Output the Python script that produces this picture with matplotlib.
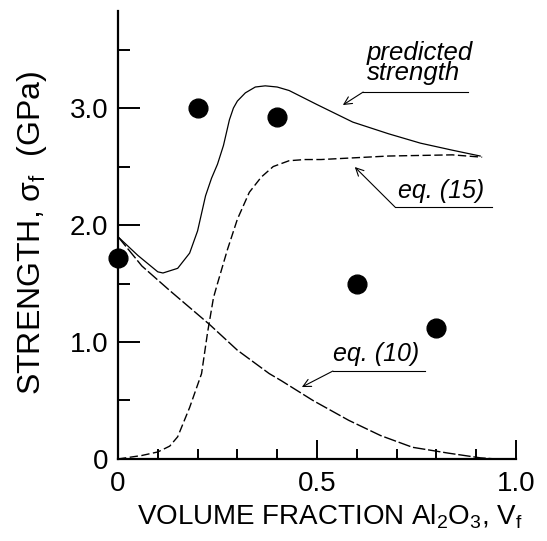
import matplotlib
matplotlib.use('Agg')
import matplotlib.pyplot as plt
from matplotlib.ticker import MultipleLocator, FixedLocator

plt.rcParams['font.family'] = ['Liberation Sans', 'DejaVu Sans']
plt.rcParams['mathtext.default'] = 'regular'

# measured strengths (GPa) vs volume fraction
data_vf = [0.0, 0.2, 0.4, 0.6, 0.8]
data_strength = [1.72, 3.0, 2.92, 1.50, 1.12]

# predicted strength curve (solid)
pred_vf = [0.0, 0.05, 0.10, 0.113, 0.15, 0.18, 0.20, 0.22, 0.235, 0.25, 0.265, 0.28,
           0.29, 0.30, 0.32, 0.345, 0.37, 0.40, 0.43, 0.50, 0.59, 0.68, 0.76, 0.84, 0.91]
pred_strength = [1.90, 1.74, 1.60, 1.59, 1.63, 1.76, 1.95, 2.25, 2.40, 2.52, 2.68, 2.90,
                 3.00, 3.06, 3.13, 3.18, 3.19, 3.18, 3.15, 3.03, 2.88, 2.78, 2.70, 2.64, 2.59]

# eq. (15)
eq15_vf = [0.0, 0.06, 0.10, 0.13, 0.15, 0.18, 0.21, 0.225, 0.24, 0.25, 0.275, 0.30,
           0.33, 0.36, 0.39, 0.43, 0.47, 0.51, 0.68, 0.84, 0.915]
eq15_strength = [0.0, 0.03, 0.06, 0.11, 0.19, 0.44, 0.73, 1.08, 1.38, 1.50, 1.79, 2.05,
                 2.28, 2.41, 2.50, 2.55, 2.56, 2.56, 2.59, 2.60, 2.58]

# eq. (10)
eq10_vf = [0.0, 0.06, 0.13, 0.23, 0.30, 0.38, 0.41, 0.49, 0.58, 0.66, 0.74,
           0.83, 0.91, 0.95]
eq10_strength = [1.90, 1.65, 1.44, 1.15, 0.93, 0.73, 0.67, 0.50, 0.33, 0.20, 0.10,
                 0.05, 0.01, 0.0]

fig = plt.figure(figsize=(5.47, 5.41), dpi=100)
ax = fig.add_axes([0.2157, 0.1516, 0.7276, 0.8281])

ax.plot(pred_vf, pred_strength, color='black', lw=0.9)
ax.plot(eq15_vf, eq15_strength, color='black', lw=1.0, dashes=(6, 2.5))
ax.plot(eq10_vf, eq10_strength, color='black', lw=1.0, dashes=(9, 2))
ax.plot(data_vf, data_strength, 'o', color='black', ms=13.5, clip_on=False, zorder=5)

ax.set_xlim(0, 1.0)
ax.set_ylim(0, 3.83)
for s in ['top', 'right']:
  ax.spines[s].set_visible(False)
for s in ['left', 'bottom']:
  ax.spines[s].set_linewidth(1.6)
ax.spines['bottom'].set_bounds(0, 1.0)

ax.xaxis.set_major_locator(FixedLocator([0, 0.5, 1.0]))
ax.xaxis.set_minor_locator(MultipleLocator(0.1))
ax.yaxis.set_major_locator(FixedLocator([0, 1, 2, 3]))
ax.yaxis.set_minor_locator(MultipleLocator(0.5))
ax.set_xticklabels(['0', '0.5', '1.0'])
ax.set_yticklabels(['0', '1.0', '2.0', '3.0'])
ax.tick_params(axis='both', which='both', direction='in', width=1.4, labelsize=20)
ax.tick_params(axis='x', which='major', length=14, pad=9)
ax.tick_params(axis='x', which='minor', length=7)
ax.tick_params(axis='y', which='major', length=16, pad=7)
ax.tick_params(axis='y', which='minor', length=8.5)

fig.text(32 / 547, 1 - 233 / 541, r'STRENGTH, $\sigma_f$  (GPa)', rotation=90,
         ha='center', va='center', fontsize=23)
fig.text(330 / 547, 1 - 517 / 541, r'VOLUME FRACTION Al$_2$O$_3$, V$_f$',
         ha='center', va='center', fontsize=20)

# annotations with leader lines
lab = dict(fontsize=18, style='italic', ha='left', va='baseline')
ax.text(0.626, 3.57, 'predicted\nstrength', fontsize=18.5, style='italic',
        ha='left', va='top', linespacing=0.75)
ax.text(0.704, 2.23, 'eq. (15)', **lab)
ax.text(0.540, 0.838, 'eq. (10)', **lab)

leaders = [((0.616, 3.137), (0.879, 3.137), (0.565, 3.026)),
           ((0.696, 2.154), (0.940, 2.154), (0.595, 2.496)),
           ((0.540, 0.752), (0.771, 0.752), (0.462, 0.615))]
for corner, end, tip in leaders:
  ax.plot([corner[0], end[0]], [corner[1], end[1]], color='black', lw=0.8, clip_on=False)
  ax.annotate('', xy=tip, xytext=corner,
              arrowprops=dict(arrowstyle='->', lw=0.8, color='black',
                              shrinkA=0, shrinkB=0, mutation_scale=14))

fig.savefig('out.png', dpi=100)
